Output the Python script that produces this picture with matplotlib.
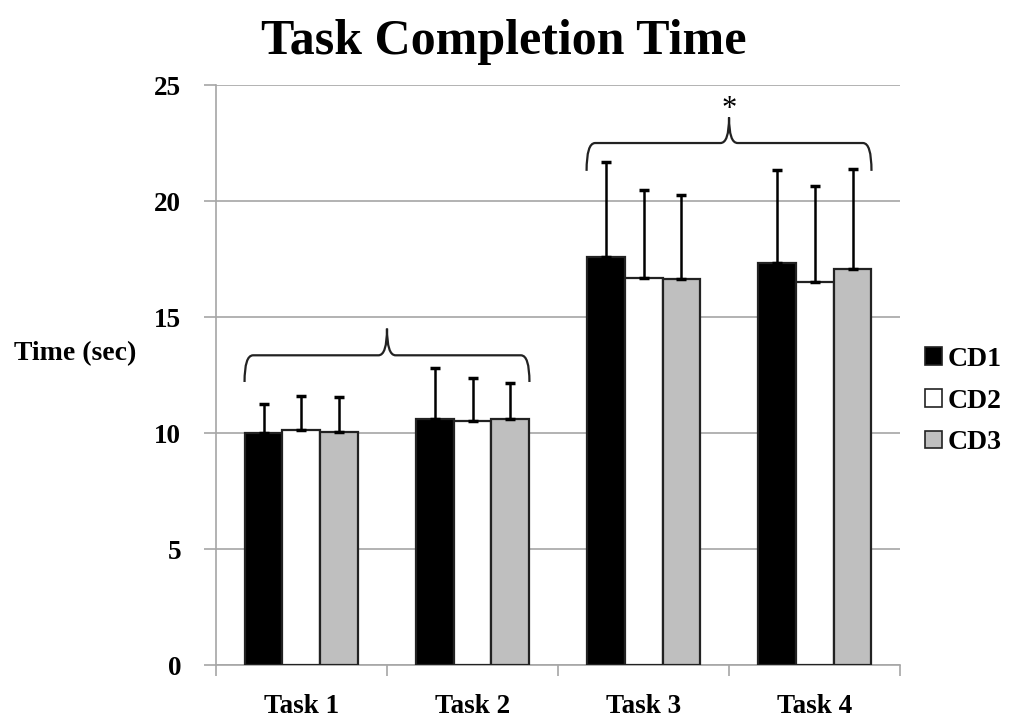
import numpy as np
import matplotlib.pyplot as plt
from matplotlib.path import Path
from matplotlib.patches import PathPatch

# -------------------- data --------------------
tasks = ["Task 1", "Task 2", "Task 3", "Task 4"]
series = ["CD1", "CD2", "CD3"]
means_cd1 = [10.0, 10.6, 17.6, 17.35]
means_cd2 = [10.13, 10.5, 16.7, 16.5]
means_cd3 = [10.06, 10.6, 16.65, 17.08]
err_cd1 = [1.25, 2.2, 4.1, 4.0]
err_cd2 = [1.45, 1.87, 3.77, 4.15]
err_cd3 = [1.5, 1.55, 3.62, 4.32]
yticks = [0, 5, 10, 15, 20, 25]

colors = ["black", "white", "#bfbfbf"]
grid_c = "#a6a6a6"

plt.rcParams["font.family"] = ["Liberation Serif", "DejaVu Serif"]
plt.rcParams["font.weight"] = "bold"

fig = plt.figure(figsize=(10.13, 7.23), dpi=100)
ax = fig.add_axes([0.2132, 0.0802, 0.6753, 0.8022])

x = np.arange(len(tasks))
w = 0.222
means = [means_cd1, means_cd2, means_cd3]
errs = [err_cd1, err_cd2, err_cd3]
for k in range(3):
    xs = x + (k - 1) * w
    ax.bar(xs, means[k], width=w, color=colors[k], edgecolor="#222222",
           linewidth=1.6, label=series[k], zorder=3)
    ax.errorbar(xs, means[k], yerr=[np.zeros(4), errs[k]], fmt="none",
                ecolor="black", elinewidth=1.8, capsize=3.5, capthick=2.5, zorder=4)

ax.set_xlim(-0.5, 3.5)
ax.set_ylim(0, 25)
ax.set_yticks(yticks)
ax.yaxis.grid(True, color=grid_c, linewidth=1.2, zorder=0)
ax.set_axisbelow(True)
for s in ["top", "right"]:
    ax.spines[s].set_visible(False)
for s in ["left", "bottom"]:
    ax.spines[s].set_color(grid_c)
    ax.spines[s].set_linewidth(1.2)

# boundary ticks on x, labels at centers
ax.set_xticks(np.arange(-0.5, 4.0, 1.0))
ax.set_xticklabels([])
ax.set_xticks(x, minor=True)
ax.set_xticklabels(tasks, minor=True, fontsize=19.5, fontweight="bold")
ax.tick_params(axis="x", which="major", length=8, color=grid_c, width=1.2)
ax.tick_params(axis="x", which="minor", length=0, pad=21)
ax.tick_params(axis="y", length=9, color=grid_c, width=1.2, labelsize=19.5, pad=16)
for t in ax.get_yticklabels():
    t.set_fontweight("bold")

fig.text(0.497, 0.942, "Task Completion Time", ha="center", va="center",
         fontsize=36, fontweight="bold")
fig.text(0.014, 0.511, "Time (sec)", ha="left", va="center", fontsize=20,
         fontweight="bold")

# legend
leg = ax.legend(loc="center left", bbox_to_anchor=(1.0, 0.455), frameon=False,
                prop={"size": 20, "weight": "bold"}, handlelength=0.6,
                handleheight=0.6, handletextpad=0.2, labelspacing=0.6)
for h in leg.legend_handles:
    h.set_linewidth(1.2)


def brace(ax, x0, x1, y_end, y_mid, y_tip):
    xc = (x0 + x1) / 2
    d = 0.05
    verts = [
        (x0, y_end), (x0, y_mid), (x0 + d, y_mid),
        (xc - d, y_mid), (xc, y_mid), (xc, y_tip),
        (xc, y_mid), (xc + d, y_mid), (x1 - d, y_mid),
        (x1, y_mid), (x1, y_end),
    ]
    codes = [Path.MOVETO, Path.CURVE3, Path.CURVE3,
             Path.LINETO, Path.CURVE3, Path.CURVE3,
             Path.CURVE3, Path.CURVE3, Path.LINETO,
             Path.CURVE3, Path.CURVE3]
    ax.add_patch(PathPatch(Path(verts, codes), fill=False, lw=1.6,
                           edgecolor="#222222", zorder=5))


brace(ax, 0 - 1.5 * w, 1 + 1.5 * w, 12.2, 13.35, 14.5)
brace(ax, 2 - 1.5 * w, 3 + 1.5 * w, 21.3, 22.5, 23.6)
ax.text(2.5, 23.3, "*", ha="center", va="bottom", fontsize=22,
        fontweight="normal")

fig.savefig("out.png", dpi=100)
